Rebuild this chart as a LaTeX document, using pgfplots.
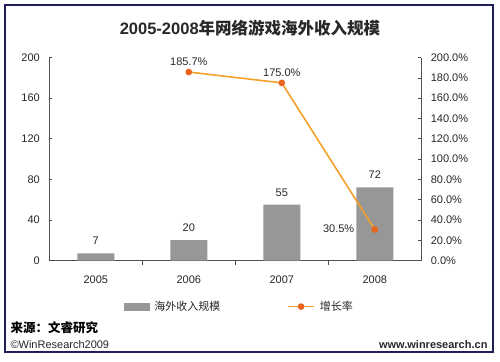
\documentclass[border=0pt]{standalone}
\usepackage{fontspec}
\setmainfont{Liberation Sans}
\newfontfamily\cjk{Noto Sans CJK SC}
\usepackage{pgfplots}
\pgfplotsset{compat=1.18}
\definecolor{barc}{RGB}{151,151,151}
\definecolor{linec}{RGB}{245,160,40}
\definecolor{markc}{RGB}{235,100,30}
\definecolor{framec}{RGB}{30,30,90}
\definecolor{txt}{RGB}{40,40,40}
\definecolor{axc}{RGB}{80,80,80}
\begin{document}
\begin{tikzpicture}[x=1pt,y=1pt]
\fill[white] (0,0) rectangle (500,361);
\draw[framec,line width=1.3pt] (5,356) rectangle (493,9);
\node[font=\fontsize{16.5}{18}\selectfont\bfseries,text=txt] at (250,333) {2005-2008{\cjk 年网络游戏海外收入规模}};
\begin{axis}[
  at={(53,99)}, anchor=south west,
  scale only axis, width=372pt, height=203pt,
  xmin=-0.5, xmax=3.5, ymin=0, ymax=200,
  axis x line*=bottom, axis y line*=left,
  axis line style={axc, line width=0.8pt},
  xtick={0,1,2,3}, xticklabels={2005,2006,2007,2008},
  minor xtick={0.5,1.5,2.5},
  major x tick style={draw=none},
  minor x tick style={axc, line width=0.6pt},
  minor tick length=4pt,
  xtick align=outside,
  ytick={0,40,...,200},
  ytick align=inside,
  major tick length=3pt,
  y tick style={axc, line width=0.6pt},
  xticklabel shift=9pt,
  yticklabel shift=6pt,
  tick label style={font=\fontsize{11}{13}\selectfont, text=txt},
  /pgf/number format/assume math mode=true,
  ybar, bar width=37pt,
  nodes near coords,
  every node near coord/.append style={font=\fontsize{11}{13}\selectfont, text=txt, yshift=5pt},
  clip=false,
]
\addplot[fill=barc, draw=none] coordinates {(0,7) (1,20) (2,55) (3,72)};
\end{axis}
\begin{axis}[
  at={(53,99)}, anchor=south west,
  scale only axis, width=372pt, height=203pt,
  xmin=-0.5, xmax=3.5, ymin=0, ymax=200,
  axis x line=none, axis y line*=right,
  axis line style={axc, line width=0.8pt},
  ytick={0,20,...,200},
  ytick align=inside,
  major tick length=3pt,
  y tick style={axc, line width=0.6pt},
  yticklabel shift=6pt,
  yticklabel={\pgfmathprintnumber[fixed,fixed zerofill,precision=1]{\tick}\%},
  tick label style={font=\fontsize{11}{13}\selectfont, text=txt},
  /pgf/number format/assume math mode=true,
  clip=false,
  legend style={at={(0.515,-0.227)}, anchor=center, draw=none, fill=none,
    legend columns=2, font=\fontsize{11}{13}\selectfont\cjk, text=txt,
    nodes={inner xsep=5pt},
    /tikz/every even column/.append style={column sep=62pt}},
  legend cell align=left,
]
\addlegendimage{legend image code/.code={\fill[barc] (0pt,-3.5pt) rectangle (25pt,3.5pt);}}
\addlegendentry{海外收入规模}
\addplot[linec, line width=1.6pt, mark=*, mark size=2.5pt,
  mark options={fill=markc, draw=markc},
  legend image code/.code={\draw[linec, line width=1.6pt] (0pt,0pt) -- (26pt,0pt);
    \fill[markc] (13pt,0pt) circle (2.5pt);}]
  coordinates {(1,185.7) (2,175.0) (3,30.5)};
\addlegendentry{增长率}
\addplot[draw=none, forget plot,
  nodes near coords={\pgfmathprintnumber[fixed,fixed zerofill,precision=1]{\pgfplotspointmeta}\%},
  every node near coord/.append style={font=\fontsize{11}{13}\selectfont, text=txt, anchor=south, yshift=3pt}]
  coordinates {(1,185.7) (2,175.0)};
\addplot[draw=none, forget plot,
  nodes near coords={\pgfmathprintnumber[fixed,fixed zerofill,precision=1]{\pgfplotspointmeta}\%},
  every node near coord/.append style={font=\fontsize{11}{13}\selectfont, text=txt, anchor=east, xshift=-17pt, yshift=1pt}]
  coordinates {(3,30.5)};
\end{axis}
\node[anchor=west, font=\fontsize{12.5}{14}\selectfont\bfseries\cjk, text=black] at (7,33) {来源：文睿研究};
\node[anchor=west, font=\fontsize{11}{13}\selectfont, text=txt] at (7,16) {©WinResearch2009};
\node[anchor=east, font=\fontsize{11}{13}\selectfont\bfseries, text=txt] at (491,16) {www.winresearch.cn};
\end{tikzpicture}
\end{document}
